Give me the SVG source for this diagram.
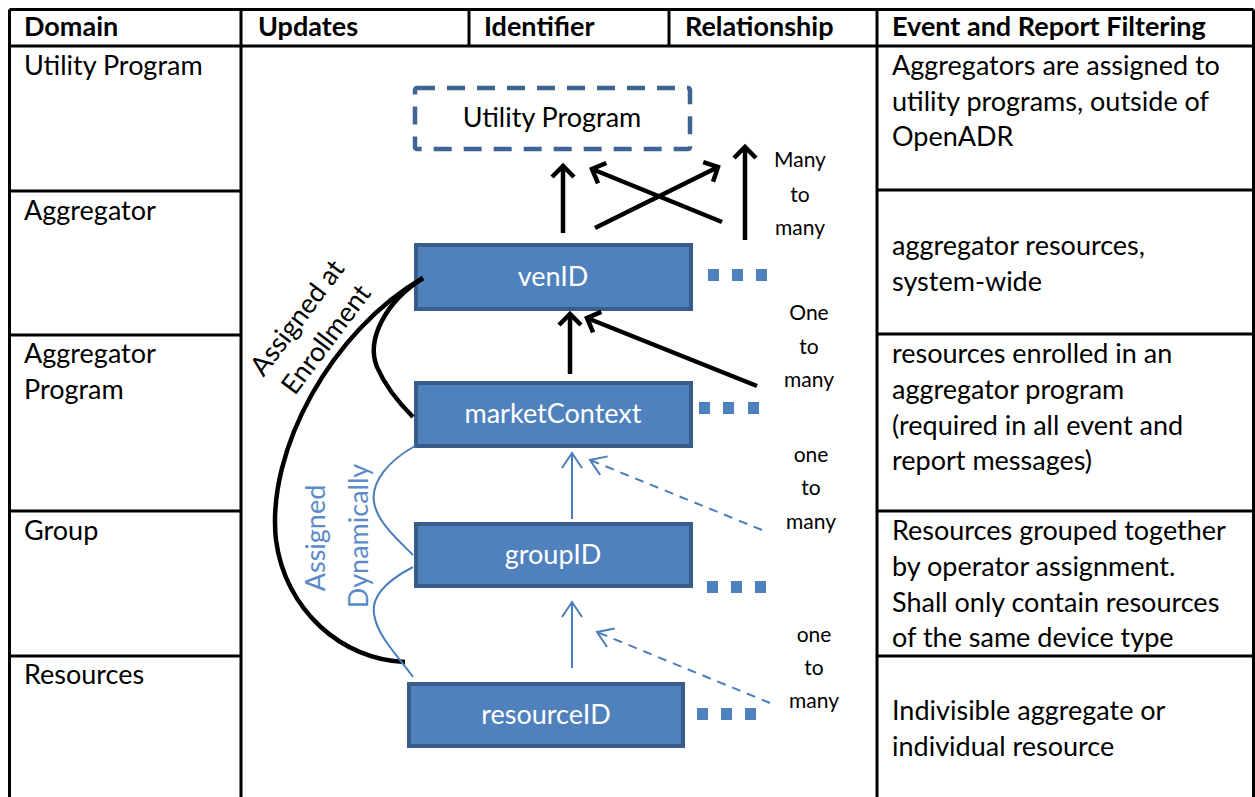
<svg xmlns="http://www.w3.org/2000/svg" width="1255" height="797" viewBox="0 0 1255 797">
  <style>
    .grid { stroke: #000; stroke-width: 3; fill: none; }
    .t { font-family: Lato, "Liberation Sans", sans-serif; font-size: 27px; fill: #000; }
    .hd { font-weight: bold; font-size: 27px; }
    .rel { font-family: Lato, "Liberation Sans", sans-serif; font-size: 21px; fill: #000; text-anchor: middle; }
    .node rect { fill: #4F81BD; stroke: #385D8A; stroke-width: 4; }
    .node text { font-family: Lato, "Liberation Sans", sans-serif; font-size: 27px; fill: #fff; text-anchor: middle; }
    .node rect.dot { fill: #4F81BD; stroke: none; }
    .blk { stroke: #000; stroke-width: 4.5; fill: none; }
    .blu { stroke: #4A7EBB; stroke-width: 2; fill: none; }
    .dash { stroke-dasharray: 9 7; }
    .bluetxt { font-family: Lato, "Liberation Sans", sans-serif; font-size: 27px; fill: #5B8BC9; text-anchor: middle; }
  </style>
  <defs>
    <marker id="headBlack" viewBox="-16 -16 20 32" refX="0" refY="0" markerWidth="20" markerHeight="32" markerUnits="userSpaceOnUse" orient="auto">
      <path d="M -11 -11 L 0 0 L -11 11" fill="none" stroke="#000" stroke-width="4.5"/>
    </marker>
    <marker id="headBlue" viewBox="-18 -14 22 28" refX="0" refY="0" markerWidth="22" markerHeight="28" markerUnits="userSpaceOnUse" orient="auto">
      <path d="M -15 -10 L 0 0 L -15 10" fill="none" stroke="#4A7EBB" stroke-width="2"/>
    </marker>
  </defs>

  <rect width="1255" height="797" fill="#fff"/>

  <!-- table grid -->
  <g id="table">
    <path class="grid" d="M9.5 9.5 H1253.5 M9.5 9.5 V797 M1253.5 9.5 V797 M9 46 H1254 M241 9 V797 M877 9 V797 M469 9 V46 M669 9 V46"/>
    <path class="grid" d="M9 191 H241 M9 335 H241 M9 511 H241 M9 656 H241"/>
    <path class="grid" d="M877 190 H1254 M877 334 H1254 M877 511 H1254 M877 656 H1254"/>
  </g>

  <!-- column headings -->
  <g id="headings" class="t hd">
    <text x="24" y="36">Domain</text>
    <text x="258" y="36">Updates</text>
    <text x="484" y="36">Identifier</text>
    <text x="685" y="36">Relationship</text>
    <text x="892" y="36">Event and Report Filtering</text>
  </g>

  <!-- domain column -->
  <g id="domains" class="t">
    <text x="24" y="75">Utility Program</text>
    <text x="24" y="220">Aggregator</text>
    <text x="24" y="363">Aggregator</text>
    <text x="24" y="399">Program</text>
    <text x="24" y="540">Group</text>
    <text x="24" y="684">Resources</text>
  </g>

  <!-- filtering column -->
  <g id="filtering" class="t">
    <text x="892" y="75">Aggregators are assigned to</text>
    <text x="892" y="111">utility programs, outside of</text>
    <text x="892" y="146">OpenADR</text>
    <text x="892" y="255">aggregator resources,</text>
    <text x="892" y="291">system-wide</text>
    <text x="892" y="363">resources enrolled in an</text>
    <text x="892" y="399">aggregator program</text>
    <text x="892" y="435">(required in all event and</text>
    <text x="892" y="470">report messages)</text>
    <text x="892" y="540">Resources grouped together</text>
    <text x="892" y="576">by operator assignment.</text>
    <text x="892" y="612">Shall only contain resources</text>
    <text x="892" y="647">of the same device type</text>
    <text x="892" y="720">Indivisible aggregate or</text>
    <text x="892" y="756">individual resource</text>
  </g>

  <!-- identifier nodes -->
  <g id="utility-program">
    <rect x="415" y="88" width="275" height="61" rx="2" fill="none" stroke="#3F6494" stroke-width="4.5" stroke-dasharray="18 12"/>
    <text class="t" x="552" y="127" text-anchor="middle">Utility Program</text>
  </g>

  <g id="ven-id" class="node">
    <rect x="416" y="245" width="275" height="64"/>
    <text x="553" y="286">venID</text>
    <rect class="dot" x="708" y="269" width="11" height="12"/>
    <rect class="dot" x="732" y="269" width="11" height="12"/>
    <rect class="dot" x="756" y="269" width="11" height="12"/>
  </g>

  <g id="market-context" class="node">
    <rect x="416" y="383" width="275" height="63"/>
    <text x="553" y="423">marketContext</text>
    <rect class="dot" x="699" y="402" width="11" height="12"/>
    <rect class="dot" x="723" y="402" width="11" height="12"/>
    <rect class="dot" x="748" y="402" width="11" height="12"/>
  </g>

  <g id="group-id" class="node">
    <rect x="416" y="524" width="275" height="62"/>
    <text x="553" y="564">groupID</text>
    <rect class="dot" x="707" y="581" width="11" height="12"/>
    <rect class="dot" x="731" y="581" width="11" height="12"/>
    <rect class="dot" x="755" y="581" width="11" height="12"/>
  </g>

  <g id="resource-id" class="node">
    <rect x="409" y="684" width="274" height="62"/>
    <text x="546" y="724">resourceID</text>
    <rect class="dot" x="697" y="708" width="11" height="12"/>
    <rect class="dot" x="721" y="708" width="11" height="12"/>
    <rect class="dot" x="745" y="708" width="11" height="12"/>
  </g>

  <!-- connectors -->
  <g id="connectors">
    <!-- venID to Utility Program, many to many -->
    <line class="blk" x1="563" y1="233" x2="563" y2="166" marker-end="url(#headBlack)"/>
    <line class="blk" x1="722" y1="222" x2="592" y2="169" marker-end="url(#headBlack)"/>
    <line class="blk" x1="595" y1="228" x2="718" y2="167" marker-end="url(#headBlack)"/>
    <line class="blk" x1="745" y1="240" x2="745" y2="147" marker-end="url(#headBlack)"/>
    <!-- marketContext to venID, one to many -->
    <line class="blk" x1="570" y1="374" x2="570" y2="314" marker-end="url(#headBlack)"/>
    <line class="blk" x1="757" y1="386" x2="587" y2="318" marker-end="url(#headBlack)"/>
    <!-- groupID to marketContext -->
    <line class="blu" x1="572" y1="519" x2="572" y2="453" marker-end="url(#headBlue)"/>
    <line class="blu dash" x1="762" y1="530" x2="590" y2="460" marker-end="url(#headBlue)"/>
    <!-- resourceID to groupID -->
    <line class="blu" x1="572" y1="668" x2="572" y2="602" marker-end="url(#headBlue)"/>
    <line class="blu dash" x1="770" y1="703" x2="597" y2="632" marker-end="url(#headBlue)"/>
    <!-- assigned at enrollment -->
    <path class="blk" d="M423 278 C 332 330, 266 450, 276 540 C 285 610, 342 660, 405 662"/>
    <path class="blk" d="M423 278 C 385 302, 366 340, 377 367 C 386 388, 400 404, 413 417"/>
    <!-- assigned dynamically -->
    <path class="blu" d="M415 446 C 388 461, 371 482, 374 502 C 377 522, 398 540, 413 555"/>
    <path class="blu" d="M413 567 C 388 580, 371 596, 374 614 C 377 636, 398 656, 413 677"/>
  </g>

  <!-- relationship labels -->
  <g id="relationships" class="rel">
    <text x="800" y="167">Many</text>
    <text x="800" y="202">to</text>
    <text x="800" y="235">many</text>
    <text x="809" y="320">One</text>
    <text x="809" y="354">to</text>
    <text x="809" y="387">many</text>
    <text x="811" y="462">one</text>
    <text x="811" y="495">to</text>
    <text x="811" y="529">many</text>
    <text x="814" y="642">one</text>
    <text x="814" y="675">to</text>
    <text x="814" y="708">many</text>
  </g>

  <!-- curve annotations -->
  <g id="enrollment-label" transform="translate(311 328) rotate(-53)">
    <text class="t" x="0" y="-8" text-anchor="middle">Assigned at</text>
    <text class="t" x="0" y="28" text-anchor="middle">Enrollment</text>
  </g>
  <g id="dynamic-label">
    <text class="bluetxt" transform="translate(325 538) rotate(-90)">Assigned</text>
    <text class="bluetxt" transform="translate(368 536) rotate(-90)">Dynamically</text>
  </g>
</svg>
